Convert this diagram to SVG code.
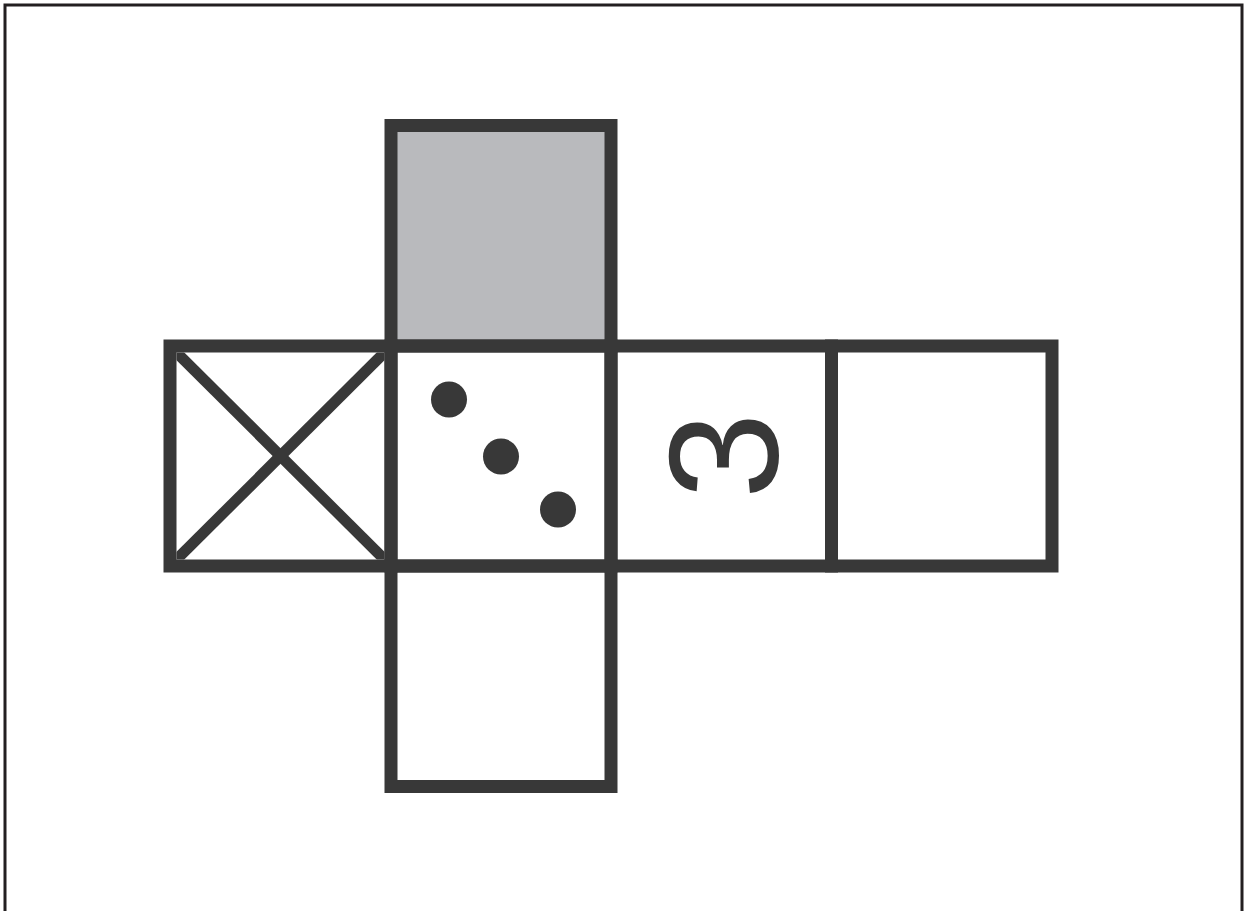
<svg xmlns="http://www.w3.org/2000/svg" width="1244" height="911" viewBox="0 0 1244 911">
  <style>
    .face { fill: none; stroke: #383838; stroke-width: 13; stroke-linejoin: miter; }
    .gray { fill: #b9babd; }
    .diag { stroke: #383838; stroke-width: 11; }
    .dot { fill: #383838; }
    .num { font-family: "Liberation Sans", Arial, sans-serif; font-size: 155px; fill: #383838; }
  </style>
  <defs>
    <clipPath id="xclip">
      <rect x="176.5" y="352.5" width="208" height="207"/>
    </clipPath>
  </defs>
  <rect id="frame" x="5" y="5" width="1237" height="1000" fill="#ffffff" stroke="#231f20" stroke-width="3"/>

  <g id="face-top">
    <rect class="face gray" x="391" y="125.5" width="220" height="220.5"/>
  </g>
  <g id="face-cross">
    <g clip-path="url(#xclip)">
      <line class="diag" x1="170" y1="346" x2="391" y2="566"/>
      <line class="diag" x1="391" y1="346" x2="170" y2="566"/>
    </g>
    <rect class="face" x="170" y="346" width="221" height="220"/>
  </g>
  <g id="face-dots">
    <rect class="face" x="391" y="346" width="220" height="220"/>
    <circle class="dot" cx="449" cy="399.5" r="18"/>
    <circle class="dot" cx="501" cy="456.5" r="18"/>
    <circle class="dot" cx="558" cy="509.5" r="18"/>
  </g>
  <g id="face-three">
    <rect class="face" x="611" y="346" width="220.5" height="220"/>
    <g transform="translate(721,456) rotate(-90)">
      <text class="num" x="0" y="55.5" text-anchor="middle">3</text>
    </g>
  </g>
  <g id="face-right">
    <rect class="face" x="831.5" y="346" width="220.5" height="220"/>
  </g>
  <g id="face-bottom">
    <rect class="face" x="391" y="566" width="220" height="220.5"/>
  </g>
  <g id="connectors"></g>
</svg>
